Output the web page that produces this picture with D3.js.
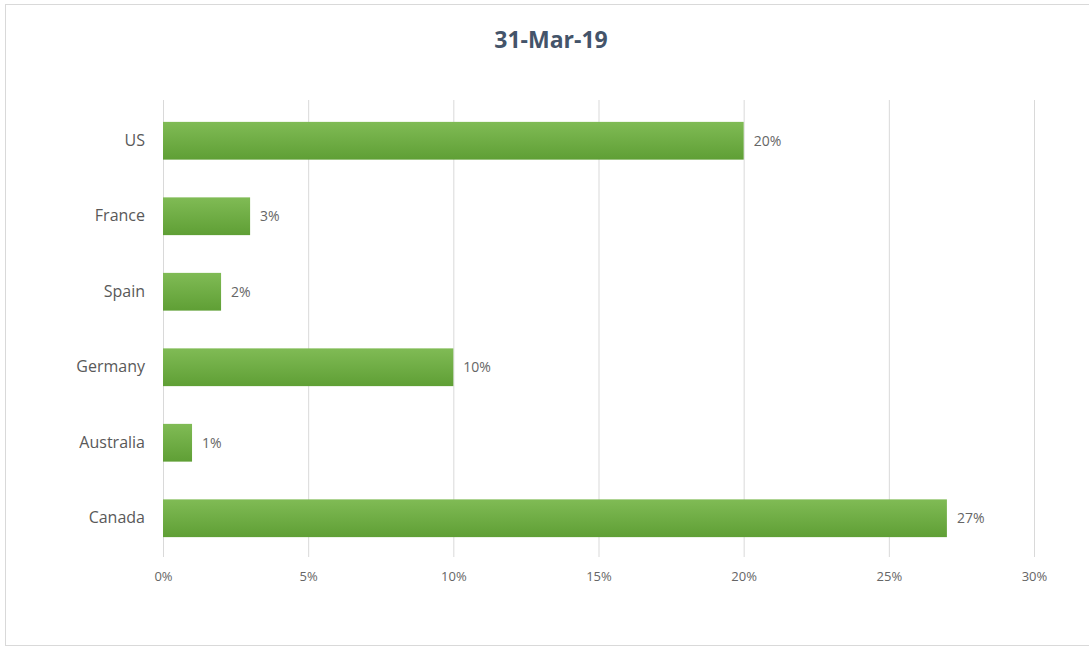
<!DOCTYPE html>
<head>
<meta charset="utf-8">
<title>31-Mar-19</title>
<script src="https://d3js.org/d3.v7.min.js"></script>
<style>
  body { margin: 0; background: #fff; }
  svg text { font-family: "Open Sans", "Liberation Sans", sans-serif; }
</style>
</head>
<body>
<div id="chart"></div>
<script>
// data
const countries = ["US", "France", "Spain", "Germany", "Australia", "Canada"];
const shares = [20, 3, 2, 10, 1, 27];
const xTicks = [0, 5, 10, 15, 20, 25, 30];

const W = 1089, H = 649;
const svg = d3.select("#chart").append("svg")
    .attr("width", W)
    .attr("height", H);

// frame
svg.append("rect")
    .attr("x", 5.5).attr("y", 4.5)
    .attr("width", W).attr("height", 641)
    .attr("fill", "#fff")
    .attr("stroke", "#d9d9d9");

const defs = svg.append("defs");
const grad = defs.append("linearGradient")
    .attr("id", "barGrad")
    .attr("x1", 0).attr("y1", 0).attr("x2", 0).attr("y2", 1);
grad.append("stop").attr("offset", "0%").attr("stop-color", "#80bb55");
grad.append("stop").attr("offset", "100%").attr("stop-color", "#5f9f35");

//---------- scales
const x = d3.scaleLinear().domain([0, 30]).range([163, 1034]);
const y = d3.scaleBand().domain(countries).range([103, 556]).paddingInner(0.5).paddingOuter(0.25);

// gridlines
svg.append("g").selectAll("line")
    .data(xTicks)
    .join("line")
    .attr("x1", d => x(d) + 0.5).attr("x2", d => x(d) + 0.5)
    .attr("y1", 100).attr("y2", 557)
    .attr("stroke", "#d9d9d9");

// x axis labels
const xaxis = d3.axisBottom(x)
    .tickValues(xTicks)
    .tickFormat(d => d + "%")
    .tickSize(0)
    .tickPadding(0);
svg.append("g")
    .attr("transform", "translate(0,572)")
    .call(xaxis)
    .call(g => g.select(".domain").remove())
    .selectAll("text")
    .attr("fill", "#666")
    .style("font-size", "13px");

// y axis labels
const yaxis = d3.axisLeft(y).tickSize(0).tickPadding(0);
svg.append("g")
    .attr("transform", "translate(145,0)")
    .call(yaxis)
    .call(g => g.select(".domain").remove())
    .selectAll("text")
    .attr("fill", "#595959")
    .style("font-size", "16px");

// bars
svg.append("g").selectAll("rect")
    .data(countries)
    .join("rect")
    .attr("x", x(0))
    .attr("y", d => y(d))
    .attr("width", (d, i) => x(shares[i]) - x(0))
    .attr("height", y.bandwidth())
    .attr("fill", "url(#barGrad)");

// value labels
svg.append("g").selectAll("text")
    .data(countries)
    .join("text")
    .attr("x", (d, i) => x(shares[i]) + 10)
    .attr("y", d => y(d) + y.bandwidth() / 2)
    .attr("dy", "0.35em")
    .attr("fill", "#666")
    .style("font-size", "14px")
    .text((d, i) => shares[i] + "%");

// title
svg.append("text")
    .attr("x", 551)
    .attr("y", 48)
    .attr("text-anchor", "middle")
    .attr("fill", "#44546a")
    .style("font-size", "23px")
    .style("font-weight", "bold")
    .text("31-Mar-19");
</script>
</body>
